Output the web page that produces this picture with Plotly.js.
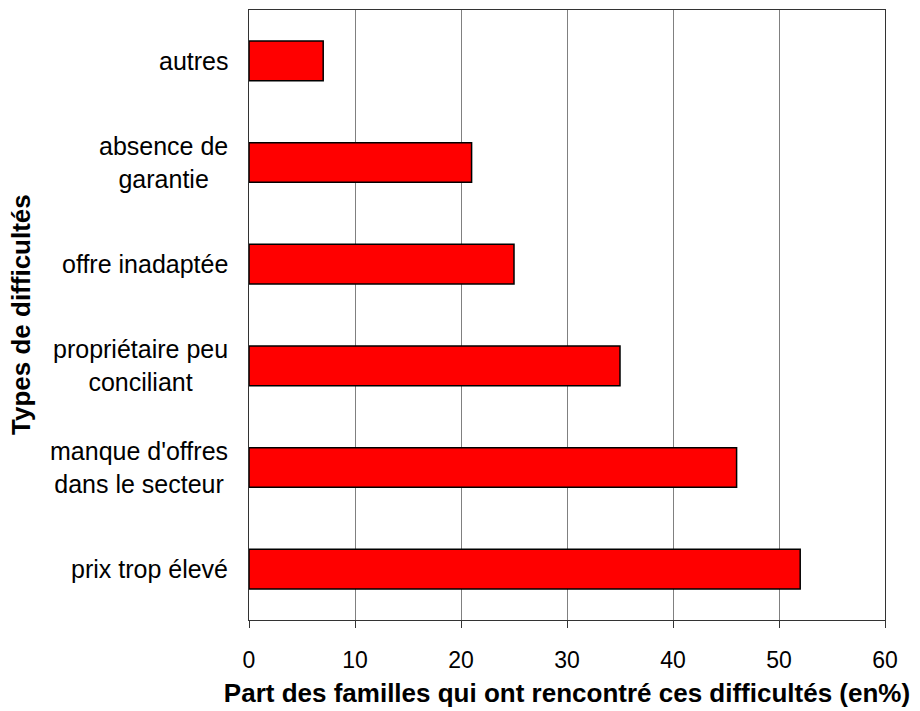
<!DOCTYPE html>
<html>
<head>
<meta charset="utf-8">
<script src="https://cdn.plot.ly/plotly-3.0.1.min.js"></script>
<style>html,body{margin:0;padding:0;background:#fff;}#chart{width:920px;height:711px;}</style>
</head>
<body>
<div id="chart"></div>
<script>
var categories = ["prix trop élevé", "manque d'offres dans le secteur", "propriétaire peu conciliant", "offre inadaptée", "absence de garantie", "autres"];
var categoryLabels = ["prix trop élevé", "manque d'offres<br>dans le secteur", "propriétaire peu<br>conciliant", "offre inadaptée", "absence de<br>garantie", "autres"];
var values = [52, 46, 35, 25, 21, 7];
var xTicks = [0, 10, 20, 30, 40, 50, 60];

var font = "Liberation Sans, Arial, sans-serif";

var trace = {
  type: "bar",
  orientation: "h",
  x: values,
  y: categories,
  marker: {color: "#ff0000", line: {color: "#000000", width: 1.5}},
  hoverinfo: "x+y"
};

var annotations = categories.map(function (c, i) {
  return {
    xref: "paper", yref: "y", x: 0, y: c, xanchor: "right", yanchor: "middle",
    xshift: -19, text: categoryLabels[i], align: "center", showarrow: false,
    font: {family: font, size: 25, color: "#000"}
  };
});
annotations.push({
  xref: "paper", yref: "paper", x: 0, y: 0.5, xanchor: "center", yanchor: "middle",
  xshift: -228, textangle: -90, text: "<b>Types de difficultés</b>", showarrow: false,
  font: {family: font, size: 26, color: "#000"}
});

var layout = {
  width: 920, height: 711,
  margin: {l: 249, r: 35, t: 10, b: 91},
  paper_bgcolor: "#fff", plot_bgcolor: "#fff",
  bargap: 0.61,
  showlegend: false,
  font: {family: font, size: 23, color: "#000"},
  xaxis: {
    range: [0, 60], tickvals: xTicks, ticktext: xTicks.map(String),
    showgrid: true, gridcolor: "#808080", gridwidth: 1,
    showline: true, linecolor: "#333", linewidth: 1, mirror: true,
    ticks: "outside", ticklen: 7, tickcolor: "#333",
    ticklabelstandoff: 12,
    zeroline: false, fixedrange: true,
    tickfont: {family: font, size: 23, color: "#000"},
    title: {text: "<b>Part des familles qui ont rencontré ces difficultés (en%)</b>", standoff: 12,
      font: {family: font, size: 26, color: "#000"}}
  },
  yaxis: {
    type: "category", categoryorder: "array", categoryarray: categories,
    range: [-0.5, 5.5],
    showticklabels: false, ticks: "", showgrid: false,
    showline: true, linecolor: "#333", linewidth: 1, mirror: true,
    zeroline: false, fixedrange: true
  },
  annotations: annotations
};

Plotly.newPlot("chart", [trace], layout, {displayModeBar: false, staticPlot: true});
</script>
</body>
</html>
